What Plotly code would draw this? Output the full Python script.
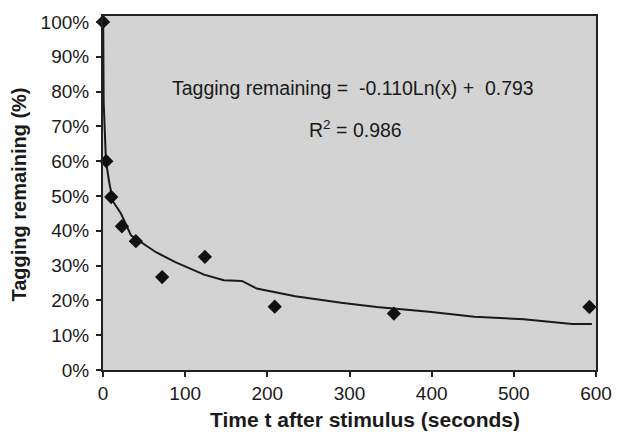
import plotly.graph_objects as go

# Measured data points (time s, tagging remaining %)
time_s = [0, 4, 10, 23, 40, 72, 124, 209, 354, 592]
remaining_pct = [100, 60, 49.7, 41.3, 37, 26.7, 32.5, 18.2, 16.2, 18.1]

# Trendline as drawn in the picture
trend_t = [0.2, 0.8, 3.6, 7.5, 12, 22, 34, 64, 88, 123, 147, 169, 187, 234, 290, 333, 397, 452, 512, 571, 595]
trend_y = [101.5, 77, 60, 54, 48.5, 44.9, 38.7, 33.9, 31.0, 27.4, 25.8, 25.6, 23.4, 21.2, 19.3, 18.1, 16.7, 15.3, 14.6, 13.2, 13.2]

y_ticks = [0, 10, 20, 30, 40, 50, 60, 70, 80, 90, 100]
y_tick_labels = ["0%", "10%", "20%", "30%", "40%", "50%", "60%", "70%", "80%", "90%", "100%"]
x_ticks = [0, 100, 200, 300, 400, 500, 600]

FONT = "Liberation Sans, Arial, sans-serif"
L, R, T, B = 103, 16, 15, 62
W, H = 624, 432

fig = go.Figure()
fig.add_trace(go.Scatter(x=trend_t, y=trend_y, mode="lines",
                         line=dict(color="#1a1a1a", width=2), hoverinfo="skip"))
fig.add_trace(go.Scatter(x=time_s, y=remaining_pct, mode="markers",
                         marker=dict(symbol="diamond", size=11, color="#111111"),
                         cliponaxis=False))

fig.update_layout(
    width=W, height=H,
    margin=dict(l=L, r=R, t=T, b=B),
    paper_bgcolor="white", plot_bgcolor="#d3d3d3",
    showlegend=False,
    font=dict(family=FONT, size=19, color="#1a1a1a"),
)
fig.update_xaxes(range=[0, 600], tickvals=x_ticks, showgrid=False, zeroline=False,
                 showline=True, linecolor="#222222", linewidth=2, mirror=True,
                 ticks="outside", ticklen=5, tickcolor="#222222", tickwidth=1.5,
                 tickfont=dict(size=19))
fig.update_yaxes(range=[0, 101.7], tickvals=y_ticks, ticktext=y_tick_labels, showgrid=False,
                 zeroline=False, showline=True, linecolor="#222222", linewidth=2, mirror=True,
                 ticks="outside", ticklen=5, tickcolor="#222222", tickwidth=1.5,
                 ticklabelstandoff=3, tickfont=dict(size=19))

pw, ph = W - L - R, H - T - B


def px(xp, yp):
    return (xp - L) / pw, (H - B - yp) / ph


ax, ay = px(359.5, 87)
fig.add_annotation(x=ax, y=ay, xref="paper", yref="paper", showarrow=False,
                   text="Tagging remaining =\u00a0\u00a0-0.110Ln(x) +\u00a0\u00a00.793",
                   font=dict(size=19.5), xanchor="center", yanchor="middle")
ax, ay = px(362, 128)
fig.add_annotation(x=ax, y=ay, xref="paper", yref="paper", showarrow=False,
                   text="R<sup>2</sup> = 0.986",
                   font=dict(size=19.5), xanchor="center", yanchor="middle")
ax, ay = px(371, 420)
fig.add_annotation(x=ax, y=ay, xref="paper", yref="paper", showarrow=False,
                   text="<b>Time t after stimulus (seconds)</b>",
                   font=dict(size=21), xanchor="center", yanchor="middle")
ax, ay = px(17, 194)
fig.add_annotation(x=ax, y=ay, xref="paper", yref="paper", showarrow=False,
                   text="<b>Tagging remaining (%)</b>",
                   font=dict(size=20), textangle=-90, xanchor="center", yanchor="middle")

fig.write_html("out.html", config={"displayModeBar": False},
               post_script="document.body.style.margin='0';document.body.style.overflow='hidden';")
